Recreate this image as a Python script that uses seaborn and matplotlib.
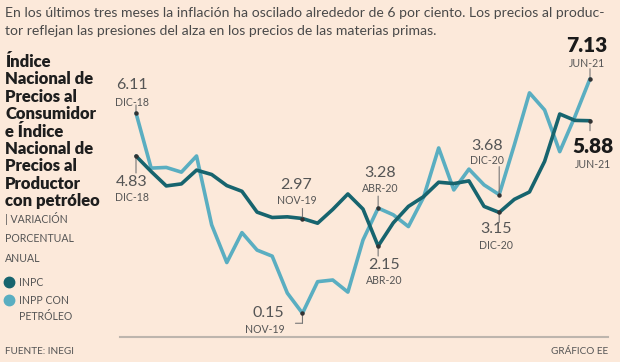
import matplotlib
matplotlib.use("Agg")
import matplotlib.pyplot as plt
from matplotlib.lines import Line2D
import seaborn as sns
import pandas as pd

months = ["DIC-18", "ENE-19", "FEB-19", "MAR-19", "ABR-19", "MAY-19", "JUN-19", "JUL-19",
          "AGO-19", "SEP-19", "OCT-19", "NOV-19", "DIC-19", "ENE-20", "FEB-20", "MAR-20",
          "ABR-20", "MAY-20", "JUN-20", "JUL-20", "AGO-20", "SEP-20", "OCT-20", "NOV-20",
          "DIC-20", "ENE-21", "FEB-21", "MAR-21", "ABR-21", "MAY-21", "JUN-21"]
inpc = [4.83, 4.37, 3.94, 4.00, 4.41, 4.28, 3.95, 3.78, 3.16, 3.00, 3.02, 2.97, 2.83, 3.24,
        3.70, 3.25, 2.15, 2.84, 3.33, 3.62, 4.05, 4.01, 4.09, 3.33, 3.15, 3.54, 3.76, 4.67,
        6.08, 5.89, 5.88]
inpp = [6.11, 4.47, 4.49, 4.35, 4.83, 2.78, 1.66, 2.55, 2.03, 1.85, 0.75, 0.15, 1.09, 1.14,
        0.78, 2.33, 3.28, 3.08, 2.73, 3.60, 5.07, 3.82, 4.44, 3.97, 3.68, 5.16, 6.71, 6.20,
        4.96, 6.00, 7.13]
series_names = ["INPC", "INPP CON PETRÓLEO"]

BG = "#fce9da"
DARK = "#17646e"
LIGHT = "#5aaec1"
GRAY = "#555555"

sns.set_style("white", {"axes.facecolor": BG, "figure.facecolor": BG})
plt.rcParams["font.family"] = ["Lato", "DejaVu Sans"]

df = pd.DataFrame({
    "idx": list(range(len(months))) * 2,
    "valor": inpc + inpp,
    "serie": [series_names[0]] * len(months) + [series_names[1]] * len(months),
})

W, H = 620, 362
fig = plt.figure(figsize=(W / 100, H / 100), dpi=100)
fig.patch.set_facecolor(BG)

left_px, right_px, top_px, bot_px = 120, 608, 55, 337
ax = fig.add_axes([left_px / W, 1 - bot_px / H, (right_px - left_px) / W, (bot_px - top_px) / H])
ax.set_facecolor(BG)

sns.lineplot(data=df, x="idx", y="valor", hue="serie", hue_order=series_names[::-1],
             palette={series_names[0]: DARK, series_names[1]: LIGHT},
             linewidth=2.6, legend=False, ax=ax)

# x mapping: idx 0 -> 136px, idx 30 -> 590px
dx = (590 - 136) / 30
ax.set_xlim(-(136 - left_px) / dx, 30 + (right_px - 590) / dx)
ppu = 33.6
zero_px = 318.3
ax.set_ylim((zero_px - bot_px) / ppu, (zero_px - top_px) / ppu)

for s in ["top", "right", "left"]:
    ax.spines[s].set_visible(False)
ax.spines["bottom"].set_color("#bdb5ad")
ax.spines["bottom"].set_linewidth(1.5)
ax.set_xticks([])
ax.set_yticks([])
ax.set_xlabel("")
ax.set_ylabel("")

PT = 0.72  # points per pixel
NUM_FS = 11.5
DATE_FS = 7.6


def label(i, series, num, date, dy_num, dy_date, tick_to, dx_txt=0, bold=False, ha="center"):
    v = series[i]
    ax.annotate("", xy=(i, v), xytext=(0, -tick_to * PT), textcoords="offset points",
                arrowprops=dict(arrowstyle="-", color="#777777", lw=0.8, shrinkA=0, shrinkB=0))
    ax.plot([i], [v], marker="o", ms=2.2, color="#333333", zorder=5)
    ax.annotate(num, xy=(i, v), xytext=(dx_txt * PT, -dy_num * PT), textcoords="offset points",
                ha=ha, va="center", fontsize=15 if bold else NUM_FS,
                fontweight="heavy" if bold else "normal", color="#1a1a1a" if bold else GRAY)
    ax.annotate(date, xy=(i, v), xytext=(dx_txt * PT, -dy_date * PT), textcoords="offset points",
                ha=ha, va="center", fontsize=DATE_FS, fontweight="normal", color=GRAY)


# offsets in px (positive = downward)
label(0, inpp, "6.11", "DIC-18", -28, -11, -8, dx_txt=-4)
label(0, inpc, "4.83", "DIC-18", 26, 41, 17, dx_txt=-4)
label(11, inpc, "2.97", "NOV-19", -34, -18, -10, dx_txt=-6)
label(16, inpp, "3.28", "ABR-20", -35, -20, -12, dx_txt=2)
label(16, inpc, "2.15", "ABR-20", 19, 34, 10, dx_txt=6)
label(24, inpp, "3.68", "DIC-20", -49, -34, -28, dx_txt=-12)
label(24, inpc, "3.15", "DIC-20", 17, 33, 10, dx_txt=-3)
label(30, inpp, "7.13", "JUN-21", -33, -15, -10, dx_txt=-3, bold=True)
label(30, inpc, "5.88", "JUN-21", 26, 44, 10, dx_txt=3, bold=True)

# 0.15 label with bracket
i = 11
v = inpp[i]
ax.annotate("", xy=(i, v), xytext=(0, -10 * PT), textcoords="offset points",
            arrowprops=dict(arrowstyle="-", color="#777777", lw=0.8, shrinkA=0, shrinkB=0))
ax.plot([i], [v], marker="o", ms=2.2, color="#333333", zorder=5)
ax.annotate("", xy=(i, v - 10 / ppu), xytext=(-7 * PT, 0), textcoords="offset points",
            arrowprops=dict(arrowstyle="-", color="#777777", lw=0.8, shrinkA=0, shrinkB=0))
ax.annotate("0.15", xy=(i, v), xytext=(-18 * PT, 0), textcoords="offset points",
            ha="right", va="center", fontsize=NUM_FS, fontweight="normal", color=GRAY)
ax.annotate("NOV-19", xy=(i, v), xytext=(-18 * PT, -16 * PT), textcoords="offset points",
            ha="right", va="center", fontsize=DATE_FS, fontweight="normal", color=GRAY)

# subtitle
SUB_FS = 10.1
fig.text(5 / W, 1 - 13 / H,
         "En los últimos tres meses la inflación ha oscilado alrededor de 6 por ciento. Los precios al produc-",
         ha="left", va="center", fontsize=SUB_FS, fontweight="normal", color="#4a4a4a")
fig.text(5 / W, 1 - 31 / H,
         "tor reflejan las presiones del alza en los precios de las materias primas.",
         ha="left", va="center", fontsize=SUB_FS, fontweight="normal", color="#4a4a4a")

# title block
title_lines = ["Índice", "Nacional de", "Precios al", "Consumidor", "e Índice", "Nacional de",
               "Precios al", "Productor", "con petróleo"]
for k, t in enumerate(title_lines):
    fig.text(5 / W, 1 - (62 + k * 17.4) / H, t, ha="left", va="center",
             fontsize=12, fontweight="heavy", color="#1e1e1e")

for t, y in [("| VARIACIÓN", 219), ("PORCENTUAL", 239), ("ANUAL", 258)]:
    fig.text(5 / W, 1 - y / H, t, ha="left", va="center", fontsize=DATE_FS,
             fontweight="normal", color=GRAY)

# legend
for col, y in [(DARK, 282), (LIGHT, 300)]:
    fig.add_artist(Line2D([9 / W], [1 - y / H], marker="o", ms=7.5, color=col,
                          linestyle="none", transform=fig.transFigure))
fig.text(19 / W, 1 - 282 / H, series_names[0], ha="left", va="center", fontsize=DATE_FS,
         fontweight="normal", color=GRAY)
fig.text(19 / W, 1 - 300 / H, "INPP CON", ha="left", va="center", fontsize=DATE_FS,
         fontweight="normal", color=GRAY)
fig.text(19 / W, 1 - 317 / H, "PETRÓLEO", ha="left", va="center", fontsize=DATE_FS,
         fontweight="normal", color=GRAY)

fig.text(5 / W, 1 - 352 / H, "FUENTE: INEGI", ha="left", va="center", fontsize=7.2,
         fontweight="normal", color=GRAY)
fig.text(608 / W, 1 - 352 / H, "GRÁFICO EE", ha="right", va="center", fontsize=7.2,
         fontweight="normal", color=GRAY)

fig.savefig("out.png", dpi=100, facecolor=BG)
